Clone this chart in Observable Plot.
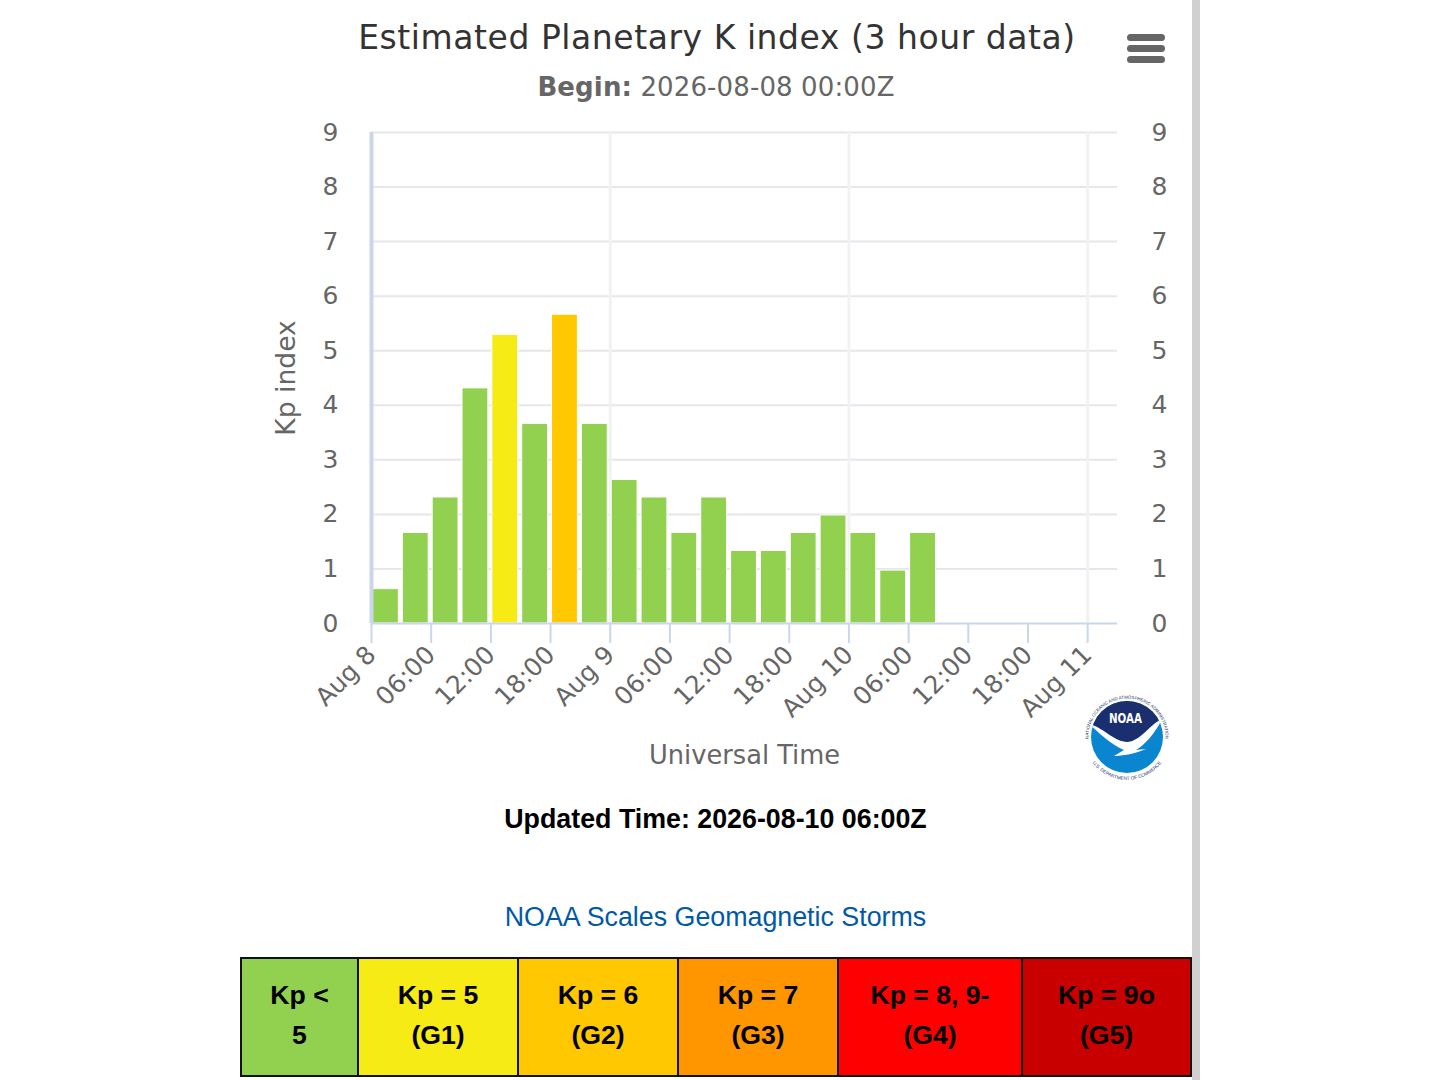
<!DOCTYPE html>
<html><head><meta charset="utf-8">
<script src="https://cdn.jsdelivr.net/npm/d3@7"></script>
<script src="https://cdn.jsdelivr.net/npm/@observablehq/plot@0.6"></script>
<style>
html,body{margin:0;padding:0;background:#fff;overflow:hidden}
#page{position:relative;width:1440px;height:1080px;overflow:hidden}
#page>*{position:absolute}
.c{left:240px;width:952px;text-align:center;white-space:nowrap}
#title{left:240px;width:952px;top:18px;font:33px "DejaVu Sans";letter-spacing:.55px;color:#333;text-indent:2px}
#sub{top:72px;font:26px "DejaVu Sans";color:#666;text-indent:0;letter-spacing:.12px}
#upd{top:804px;font:bold 26.8px "Liberation Sans";color:#000;text-indent:-1px}
#lnk{top:902px;font:26.8px "Liberation Sans";color:#0059a6;text-indent:-1px}
#menu{left:1127px;top:34px;width:38px}
#menu div{height:7px;border-radius:4px;background:#666;margin-bottom:4.2px}
#bar{left:1192px;top:0;width:8px;height:1080px;background:#d0d0d0}
#chart{left:240px;top:0}
#scale{left:240px;top:957px;width:950px;height:120px;border-collapse:collapse;table-layout:fixed;box-sizing:border-box}
#scale td{border:2px solid #111;padding:0 0 4px;text-align:center;font:bold 26.6px/40px "Liberation Sans";color:#000}
#logo{left:1072px;top:680px}
</style></head><body><div id="page">
<div id="title" class="c">Estimated Planetary K index (3 hour data)</div>
<div id="sub" class="c"><b>Begin:</b> 2026-08-08 00:00Z</div>
<div id="menu"><div></div><div></div><div></div></div>
<div id="chart"></div>
<svg id="logo" width="110" height="110" viewBox="0 0 110 110">
  <defs>
    <path id="ringT" d="M 18.8 70.2 A 38.5 38.5 0 1 1 91.2 70.2"/>
    <path id="ringB" d="M 17.8 78.5 A 43 43 0 0 0 92.2 78.5"/>
    <clipPath id="cc"><circle cx="55" cy="57" r="36"/></clipPath>
  </defs>
  <g clip-path="url(#cc)">
    <rect x="0" y="0" width="110" height="110" fill="#0a85cf"/>
    <path d="M 0 0 H 110 V 38 L 90 39 C 78 44 68 62 55 62 C 42 62 32 48 17 44 L 0 44 Z" fill="#1b2f6e"/>
    <path d="M 17 44 C 32 48 42 62 55 62 C 68 62 78 44 90 39 C 84 52 72 66 64 70 L 74 69 C 62 74 50 76 42 76 L 52 70 C 38 64 26 52 17 44 Z" fill="#fff"/>
  </g>
  <text x="53.5" y="43" text-anchor="middle" font-family="DejaVu Sans" font-weight="bold" font-size="13.5" fill="#fff" textLength="33" lengthAdjust="spacingAndGlyphs">NOAA</text>
  <text font-family="Liberation Sans" font-size="4.4" fill="#1b2f6e"><textPath href="#ringT" startOffset="50%" text-anchor="middle">NATIONAL OCEANIC AND ATMOSPHERIC ADMINISTRATION</textPath></text>
  <text font-family="Liberation Sans" font-size="4.7" fill="#1b2f6e"><textPath href="#ringB" startOffset="50%" text-anchor="middle">U.S. DEPARTMENT OF COMMERCE</textPath></text>
</svg>
<div id="upd" class="c">Updated Time: 2026-08-10 06:00Z</div>
<div id="lnk" class="c">NOAA Scales Geomagnetic Storms</div>
<table id="scale"><colgroup id="cols"></colgroup><tr id="cells"></tr></table>
<div id="bar"></div>
</div>
<script>
const startTimes = ["2026-08-08T00:00Z","2026-08-08T03:00Z","2026-08-08T06:00Z","2026-08-08T09:00Z","2026-08-08T12:00Z","2026-08-08T15:00Z","2026-08-08T18:00Z","2026-08-08T21:00Z","2026-08-09T00:00Z","2026-08-09T03:00Z","2026-08-09T06:00Z","2026-08-09T09:00Z","2026-08-09T12:00Z","2026-08-09T15:00Z","2026-08-09T18:00Z","2026-08-09T21:00Z","2026-08-10T00:00Z","2026-08-10T03:00Z","2026-08-10T06:00Z"];
const endTimes = ["2026-08-08T03:00Z","2026-08-08T06:00Z","2026-08-08T09:00Z","2026-08-08T12:00Z","2026-08-08T15:00Z","2026-08-08T18:00Z","2026-08-08T21:00Z","2026-08-09T00:00Z","2026-08-09T03:00Z","2026-08-09T06:00Z","2026-08-09T09:00Z","2026-08-09T12:00Z","2026-08-09T15:00Z","2026-08-09T18:00Z","2026-08-09T21:00Z","2026-08-10T00:00Z","2026-08-10T03:00Z","2026-08-10T06:00Z","2026-08-10T09:00Z"];
const kpValues = [0.63,1.66,2.31,4.31,5.29,3.66,5.66,3.66,2.63,2.31,1.66,2.31,1.33,1.33,1.66,1.98,1.66,0.97,1.66];
const tickTimes = ["2026-08-08T00:00Z","2026-08-08T06:00Z","2026-08-08T12:00Z","2026-08-08T18:00Z","2026-08-09T00:00Z","2026-08-09T06:00Z","2026-08-09T12:00Z","2026-08-09T18:00Z","2026-08-10T00:00Z","2026-08-10T06:00Z","2026-08-10T12:00Z","2026-08-10T18:00Z","2026-08-11T00:00Z"];
const tickLabels = ["Aug 8","06:00","12:00","18:00","Aug 9","06:00","12:00","18:00","Aug 10","06:00","12:00","18:00","Aug 11"];
const dayTimes = ["2026-08-09T00:00Z","2026-08-10T00:00Z","2026-08-11T00:00Z"];
const xDomain = ["2026-08-08T00:00Z","2026-08-11T03:00Z"];
const kpTicks = [0,1,2,3,4,5,6,7,8,9];
const kpThresholds = [4.5,5.5,6.5,7.5,8.5];
const scaleColors = ["#92d050","#f6eb14","#ffc800","#ff9600","#ff0000","#c80000"];
const scaleTop = ["Kp <","Kp = 5","Kp = 6","Kp = 7","Kp = 8, 9-","Kp = 9o"];
const scaleBottom = ["5","(G1)","(G2)","(G3)","(G4)","(G5)"];
const scaleWidths = [117,160,160,160,184,169];

const rows = kpValues.map((kp,i)=>({start:new Date(startTimes[i]),end:new Date(endTimes[i]),kp}));
const ticks = tickTimes.map(t=>new Date(t));
const labelOf = new Map(ticks.map((t,i)=>[+t,tickLabels[i]]));
const font = '"DejaVu Sans"';

const chart = Plot.plot({
  width:952, height:800,
  marginLeft:131, marginRight:75, marginTop:132, marginBottom:177,
  style:{fontFamily:font,background:"transparent",overflow:"visible"},
  x:{type:"utc",domain:xDomain.map(d=>new Date(d))},
  y:{domain:[0,9]},
  color:{type:"threshold",domain:kpThresholds,range:scaleColors},
  marks:[
    Plot.gridY(kpTicks.filter(d=>d>0),{stroke:"#e6e6ec",strokeOpacity:1,strokeWidth:2}),
    Plot.ruleX(dayTimes.map(d=>new Date(d)),{stroke:"#f2f2f5",strokeWidth:3}),
    Plot.rectY(rows,{x1:"start",x2:"end",y1:0,y2:"kp",fill:"kp",insetLeft:1.5,insetRight:2.5,stroke:"#fff",strokeWidth:1}),
    Plot.ruleX([new Date(xDomain[0])],{stroke:"#ccd6eb",strokeWidth:4}),
    Plot.ruleY([0],{stroke:"#ccd6eb",strokeWidth:2}),
    Plot.axisX({ticks,tickFormat:d=>labelOf.get(+d),tickSize:20,tickPadding:7,tickRotate:-45,stroke:"#ccd6eb",strokeWidth:2,fontSize:25,fill:"#666",
      label:"Universal Time",labelAnchor:"center",labelArrow:"none",labelOffset:140}),
    Plot.axisY({anchor:"left",ticks:kpTicks,tickSize:0,tickPadding:33,fontSize:25,fill:"#666",
      label:"Kp index",labelAnchor:"center",labelArrow:"none",labelOffset:95}),
    Plot.axisY({anchor:"right",ticks:kpTicks,tickSize:0,tickPadding:34,fontSize:25,fill:"#666",label:null})
  ]
});
document.getElementById("chart").appendChild(chart);
d3.select(chart).selectAll('[aria-label="y-axis label"] text').style("font-size","26.6px").style("fill","#666");
d3.select(chart).selectAll('[aria-label="x-axis label"] text').style("font-size","25.7px").style("fill","#666");

scaleWidths.forEach(w=>{const c=document.createElement("col");c.style.width=w+"px";document.getElementById("cols").appendChild(c)});
scaleTop.forEach((t,i)=>{
  const td=document.createElement("td");td.style.background=scaleColors[i];
  td.innerHTML=t.replace("<","&lt;")+"<br>"+scaleBottom[i];
  document.getElementById("cells").appendChild(td);
});
</script></body></html>
